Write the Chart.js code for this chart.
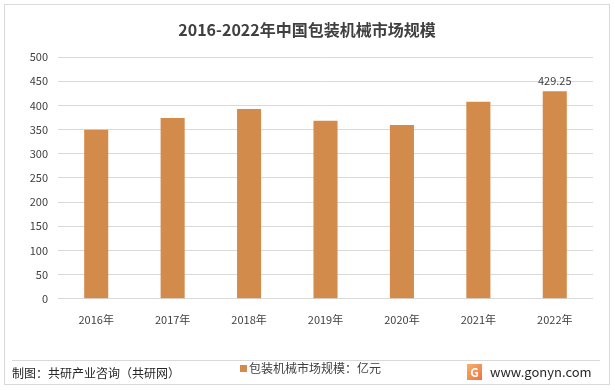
<!DOCTYPE html>
<html>
<head>
<meta charset="utf-8">
<script src="https://cdn.jsdelivr.net/npm/chart.js@4.4.0/dist/chart.umd.min.js"></script>
<style>
  html, body { margin: 0; padding: 0; background: #fff; }
  #wrap { width: 615px; height: 390px; position: relative; }
</style>
</head>
<body>
<div id="wrap"><canvas id="marketChart" width="615" height="390"></canvas></div>
<script>
// Data
const years = ['2016年', '2017年', '2018年', '2019年', '2020年', '2021年', '2022年'];
const marketSize = [349.5, 374, 392.5, 368, 359.5, 407.5, 429.25];
const seriesName = '包装机械市场规模：亿元';
const chartTitle = '2016-2022年中国包装机械市场规模';

const barColor = '#d38b4c';
const cjk = '"Noto Sans CJK SC", "Noto Sans", sans-serif';

// Frame, title, footer, legend and the single data label
const decorPlugin = {
    id: 'decor',
    beforeDraw: function(chart) {
        const ctx = chart.ctx;
        ctx.save();
        ctx.fillStyle = '#fff';
        ctx.fillRect(0, 0, chart.width, chart.height);
        ctx.strokeStyle = '#d9d9d9';
        ctx.lineWidth = 1;
        ctx.strokeRect(4.5, 4.5, 605, 380);
        ctx.beginPath();
        ctx.moveTo(12, 360.5);
        ctx.lineTo(600, 360.5);
        ctx.stroke();
        ctx.restore();
    },
    afterDraw: function(chart) {
        const ctx = chart.ctx;
        ctx.save();
        // title
        ctx.fillStyle = '#404040';
        ctx.font = 'bold 16px ' + cjk;
        ctx.textAlign = 'center';
        ctx.textBaseline = 'middle';
        ctx.fillText(chartTitle, 307, 30);

        // value label on the last bar
        const meta = chart.getDatasetMeta(0);
        const last = meta.data[meta.data.length - 1];
        ctx.font = '11px ' + cjk;
        ctx.fillStyle = '#404040';
        ctx.textBaseline = 'bottom';
        ctx.fillText(String(marketSize[marketSize.length - 1]), last.x, last.y - 5);

        // legend
        ctx.fillStyle = barColor;
        ctx.fillRect(240, 365, 7, 7);
        ctx.fillStyle = '#404040';
        ctx.font = '12px ' + cjk;
        ctx.textAlign = 'left';
        ctx.textBaseline = 'middle';
        ctx.fillText(seriesName, 249, 368);

        // footer source
        ctx.fillStyle = '#262626';
        ctx.font = '12px ' + cjk;
        ctx.fillText('制图：共研产业咨询（共研网）', 12, 373);

        // logo + url
        const g = ctx.createLinearGradient(467, 363, 483, 381);
        g.addColorStop(0, '#f7b26b');
        g.addColorStop(1, '#ee6f3c');
        ctx.fillStyle = g;
        ctx.fillRect(467, 364, 15, 16);
        ctx.fillStyle = '#fff';
        ctx.font = 'bold 12px ' + cjk;
        ctx.textAlign = 'center';
        ctx.fillText('G', 474.5, 372.5);
        ctx.fillStyle = '#262626';
        ctx.font = '13px ' + cjk;
        ctx.textAlign = 'left';
        ctx.fillText('www.gonyn.com', 490, 372);
        ctx.restore();
    }
};

document.addEventListener('DOMContentLoaded', function() {
    const canvas = document.getElementById('marketChart');
    new Chart(canvas, {
        type: 'bar',
        data: {
            labels: years,
            datasets: [{
                label: seriesName,
                data: marketSize,
                backgroundColor: barColor,
                borderWidth: 0,
                categoryPercentage: 1,
                barPercentage: 0.315
            }]
        },
        options: {
            responsive: false,
            animation: false,
            layout: {
                padding: { top: 57, left: 14, right: 22, bottom: 58 }
            },
            plugins: {
                legend: { display: false },
                title: { display: false },
                tooltip: { enabled: false }
            },
            scales: {
                x: {
                    grid: { display: false },
                    border: { display: false },
                    ticks: {
                        color: '#404040',
                        font: { family: cjk, size: 11 },
                        padding: 6
                    }
                },
                y: {
                    min: 0,
                    max: 500,
                    ticks: {
                        stepSize: 50,
                        color: '#404040',
                        font: { family: cjk, size: 11 },
                        padding: 10
                    },
                    grid: { color: '#d9d9d9', drawTicks: false },
                    border: { display: false },
                    afterFit: function(scale) { scale.width = 44; }
                }
            }
        },
        plugins: [decorPlugin]
    });
});
</script>
</body>
</html>
